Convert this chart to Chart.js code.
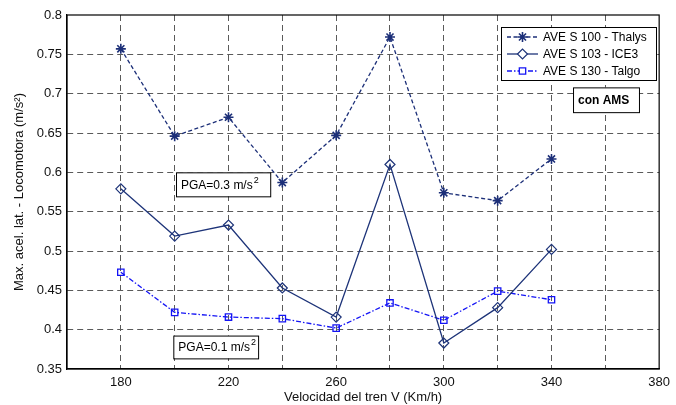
<!DOCTYPE html>
<html>
<head>
<meta charset="utf-8">
<script src="https://cdn.jsdelivr.net/npm/chart.js@4/dist/chart.umd.min.js"></script>
<style>
  html, body { margin: 0; padding: 0; background: #fff; }
  #wrap { width: 676px; height: 405px; }
</style>
</head>
<body>
<div id="wrap"><canvas id="chart" width="676" height="405"></canvas></div>
<script>
// train speed (km/h)
const speeds = [180, 200, 220, 240, 260, 280, 300, 320, 340];
// max lateral acceleration of the locomotive (m/s2)
const thalys = [0.757, 0.646, 0.670, 0.587, 0.647, 0.772, 0.574, 0.564, 0.617];
const ice3 = [0.579, 0.519, 0.533, 0.453, 0.416, 0.610, 0.383, 0.428, 0.502];
const talgo = [0.473, 0.422, 0.416, 0.414, 0.402, 0.434, 0.412, 0.449, 0.438];
const seriesNames = ['AVE S 100 - Thalys', 'AVE S 103 - ICE3', 'AVE S 130 - Talgo'];
const xTickLabels = [180, 220, 260, 300, 340, 380];

const font = 'Arial, "Liberation Sans", sans-serif';
const navy = '#1c2f78';
const navy2 = '#1e3479';
const blue = '#1414f5';

function pts(ys) {
    return speeds.map((x, i) => ({ x: x, y: ys[i] }));
}

// boxes and texts drawn over the plot, plus frame and legend
const overlay = {
    id: 'overlay',
    afterDatasetsDraw(chart) {
        const ctx = chart.ctx;
        const a = chart.chartArea;
        const xs = chart.scales.x, ys = chart.scales.y;
        ctx.save();

        // frame
        ctx.strokeStyle = '#000';
        ctx.lineWidth = 1.2;
        ctx.strokeRect(a.left, a.top, a.right - a.left, a.bottom - a.top);

        function box(x0, y0, x1, y1, text, bold, sup) {
            const l = xs.getPixelForValue(x0), r = xs.getPixelForValue(x1);
            const t = ys.getPixelForValue(y0), b = ys.getPixelForValue(y1);
            ctx.fillStyle = '#fff';
            ctx.fillRect(l, t, r - l, b - t);
            ctx.strokeStyle = '#000';
            ctx.lineWidth = 1;
            ctx.strokeRect(l + 0.5, t + 0.5, r - l, b - t);
            ctx.fillStyle = '#000';
            ctx.font = (bold ? 'bold ' : '') + '12px ' + font;
            ctx.textBaseline = 'middle';
            ctx.textAlign = 'left';
            const cy = (t + b) / 2 + 1;
            ctx.fillText(text, l + 5, cy);
            if (sup) {
                const w = ctx.measureText(text).width;
                ctx.font = '9px ' + font;
                ctx.fillText(sup, l + 5 + w + 1, cy - 5);
            }
        }
        box(200.5, 0.6, 235.5, 0.5695, 'PGA=0.3 m/s', false, '2');
        box(199.5, 0.3925, 231, 0.3635, 'PGA=0.1 m/s', false, '2');
        box(348, 0.708, 372.5, 0.6765, 'con AMS', true);

        // legend
        const lx = 501, ly = 27, lw = 155, lh = 53;
        ctx.fillStyle = '#fff';
        ctx.fillRect(lx, ly, lw, lh);
        ctx.strokeStyle = '#000';
        ctx.lineWidth = 1;
        ctx.strokeRect(lx + 0.5, ly + 0.5, lw, lh);
        chart.data.datasets.forEach((ds, i) => {
            const y = ly + 10 + i * 17;
            ctx.strokeStyle = ds.borderColor;
            ctx.lineWidth = 1.3;
            ctx.setLineDash(ds.borderDash || []);
            ctx.beginPath();
            ctx.moveTo(lx + 6, y);
            ctx.lineTo(lx + 37, y);
            ctx.stroke();
            ctx.setLineDash([]);
            ctx.fillStyle = '#fff';
            ctx.strokeStyle = ds.pointBorderColor;
            ctx.lineWidth = ds.pointBorderWidth;
            Chart.helpers.drawPoint(ctx, {
                pointStyle: ds.pointStyle, radius: ds.pointRadius,
                borderWidth: ds.pointBorderWidth, rotation: 0
            }, lx + 21.5, y);
            ctx.fillStyle = '#000';
            ctx.font = '12px ' + font;
            ctx.textAlign = 'left';
            ctx.textBaseline = 'middle';
            ctx.fillText(seriesNames[i], lx + 42, y + 1);
        });
        ctx.restore();
    }
};

window.onload = function() {
    new Chart(document.getElementById('chart'), {
        type: 'line',
        data: {
            datasets: [{
                label: seriesNames[0],
                data: pts(thalys),
                borderColor: navy,
                borderWidth: 1.3,
                borderDash: [4, 2.5],
                pointStyle: 'star',
                pointRadius: 5,
                pointBorderWidth: 1.6,
                pointBorderColor: navy,
                pointBackgroundColor: 'transparent',
                tension: 0
            }, {
                label: seriesNames[1],
                data: pts(ice3),
                borderColor: navy2,
                borderWidth: 1.3,
                pointStyle: 'rectRot',
                pointRadius: 5,
                pointBorderWidth: 1.2,
                pointBorderColor: navy2,
                pointBackgroundColor: 'transparent',
                tension: 0
            }, {
                label: seriesNames[2],
                data: pts(talgo),
                borderColor: blue,
                borderWidth: 1.3,
                borderDash: [5, 2, 1.5, 2],
                pointStyle: 'rect',
                pointRadius: 4.5,
                pointBorderWidth: 1.3,
                pointBorderColor: blue,
                pointBackgroundColor: 'transparent',
                tension: 0
            }]
        },
        options: {
            responsive: false,
            animation: false,
            layout: { padding: { top: 15, right: 14, left: 12, bottom: 0 } },
            plugins: {
                legend: { display: false },
                tooltip: { enabled: false }
            },
            scales: {
                x: {
                    type: 'linear',
                    min: 160,
                    max: 380,
                    afterBuildTicks: s => {
                        s.ticks = [];
                        for (let v = 180; v <= 380; v += 20) s.ticks.push({ value: v });
                    },
                    afterFit: s => { s.height = 36; },
                    grid: {
                        color: c => (c.tick && c.tick.value >= 380) ? 'rgba(0,0,0,0)' : '#5a5a5a',
                        lineWidth: 1,
                        drawTicks: false
                    },
                    border: { display: true, color: '#000', width: 1.2, dash: [6, 4] },
                    ticks: {
                        autoSkip: false,
                        maxRotation: 0,
                        padding: 6,
                        color: '#111',
                        font: { family: font, size: 13 },
                        callback: v => xTickLabels.includes(v) ? String(v) : ''
                    },
                    title: {
                        display: true,
                        text: 'Velocidad del tren V (Km/h)',
                        color: '#111',
                        padding: { top: 0, bottom: 0 },
                        font: { family: font, size: 13 }
                    }
                },
                y: {
                    min: 0.35,
                    max: 0.8,
                    afterFit: s => { s.width = 55; },
                    grid: {
                        color: c => (c.tick && (c.tick.value <= 0.351 || c.tick.value >= 0.799)) ? 'rgba(0,0,0,0)' : '#5a5a5a',
                        lineWidth: 1,
                        drawTicks: false
                    },
                    border: { display: true, color: '#000', width: 1.2, dash: [6, 4] },
                    ticks: {
                        stepSize: 0.05,
                        padding: 5,
                        color: '#111',
                        font: { family: font, size: 13 },
                        callback: v => String(Math.round(v * 100) / 100)
                    },
                    title: {
                        display: true,
                        text: 'Max. acel. lat. - Locomotora (m/s²)',
                        color: '#111',
                        padding: { top: 0, bottom: 2 },
                        font: { family: font, size: 13 }
                    }
                }
            }
        },
        plugins: [overlay]
    });
};
</script>
</body>
</html>
